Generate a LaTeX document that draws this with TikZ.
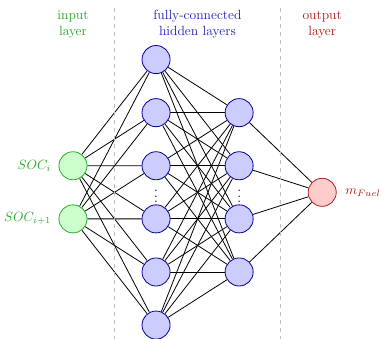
\documentclass[tikz,border=0pt]{standalone}
\usepackage{amsmath}
\usetikzlibrary{positioning, calc, backgrounds}
\definecolor{CapaVerde}{RGB}{40,170,40}
\definecolor{CapaAzul}{RGB}{40,40,190}
\definecolor{CapaRoja}{RGB}{180,30,30}

\begin{document}
\begin{tikzpicture}[
    neuron/.style={circle, draw, minimum size=0.74cm, inner sep=0pt, semithick},
    inp/.style={neuron, fill=green!20, draw=CapaVerde},
    hid/.style={neuron, fill=blue!20, draw=blue!60!black},
    outp/.style={neuron, fill=red!20, draw=CapaRoja},
    conn/.style={black, line width=0.6pt},
    sep/.style={dashed, gray!50, semithick},
    title/.style={align=center, font=\normalsize}
]
    \useasboundingbox (-1.924,-3.86) rectangle (8.12,5.07);
    % input layer
    \node[inp, label={[CapaVerde, label distance=2pt]left:$SOC_i$}] (in-1) at (0,0.7) {};
    \node[inp, label={[CapaVerde, label distance=2pt]left:$SOC_{i+1}$}] (in-2) at (0,-0.7) {};
    % hidden layers
    \foreach \i in {1,...,6}
        \node[hid] (ha-\i) at (2.19,{4.9-1.4*\i}) {};
    \foreach \i in {1,...,4}
        \node[hid] (hb-\i) at (4.38,{3.5-1.4*\i}) {};
    \node[inner sep=0pt] (dots-a) at (2.19,0) {$\vdots$};
    \node[inner sep=0pt] (dots-b) at (4.38,0) {$\vdots$};
    % output layer
    \node[outp, label={[CapaRoja, label distance=3pt]right:$m_{Fuel}$}] (out) at (6.57,0) {};
    % connections
    \begin{scope}[on background layer]
        \foreach \i in {1,2}
            \foreach \j in {1,...,6}
                \draw[conn] (in-\i) -- (ha-\j);
        \foreach \i in {1,...,6}
            \foreach \j in {1,...,4}
                \draw[conn] (ha-\i) -- (hb-\j);
        \foreach \j in {1,...,4}
            \draw[conn] (hb-\j) -- (out);
    \end{scope}
    % separators and titles
    \draw[sep] (1.08,4.86) -- (1.08,-3.86);
    \draw[sep] (5.48,4.86) -- (5.48,-3.86);
    \node[title, CapaVerde] (t-in) at (0,4.42) {input\\layer};
    \node[title, CapaAzul] (t-hid) at (3.28,4.42) {fully-connected\\hidden layers};
    \node[title, CapaRoja] (t-out) at (6.57,4.42) {output\\layer};
\end{tikzpicture}
\end{document}
